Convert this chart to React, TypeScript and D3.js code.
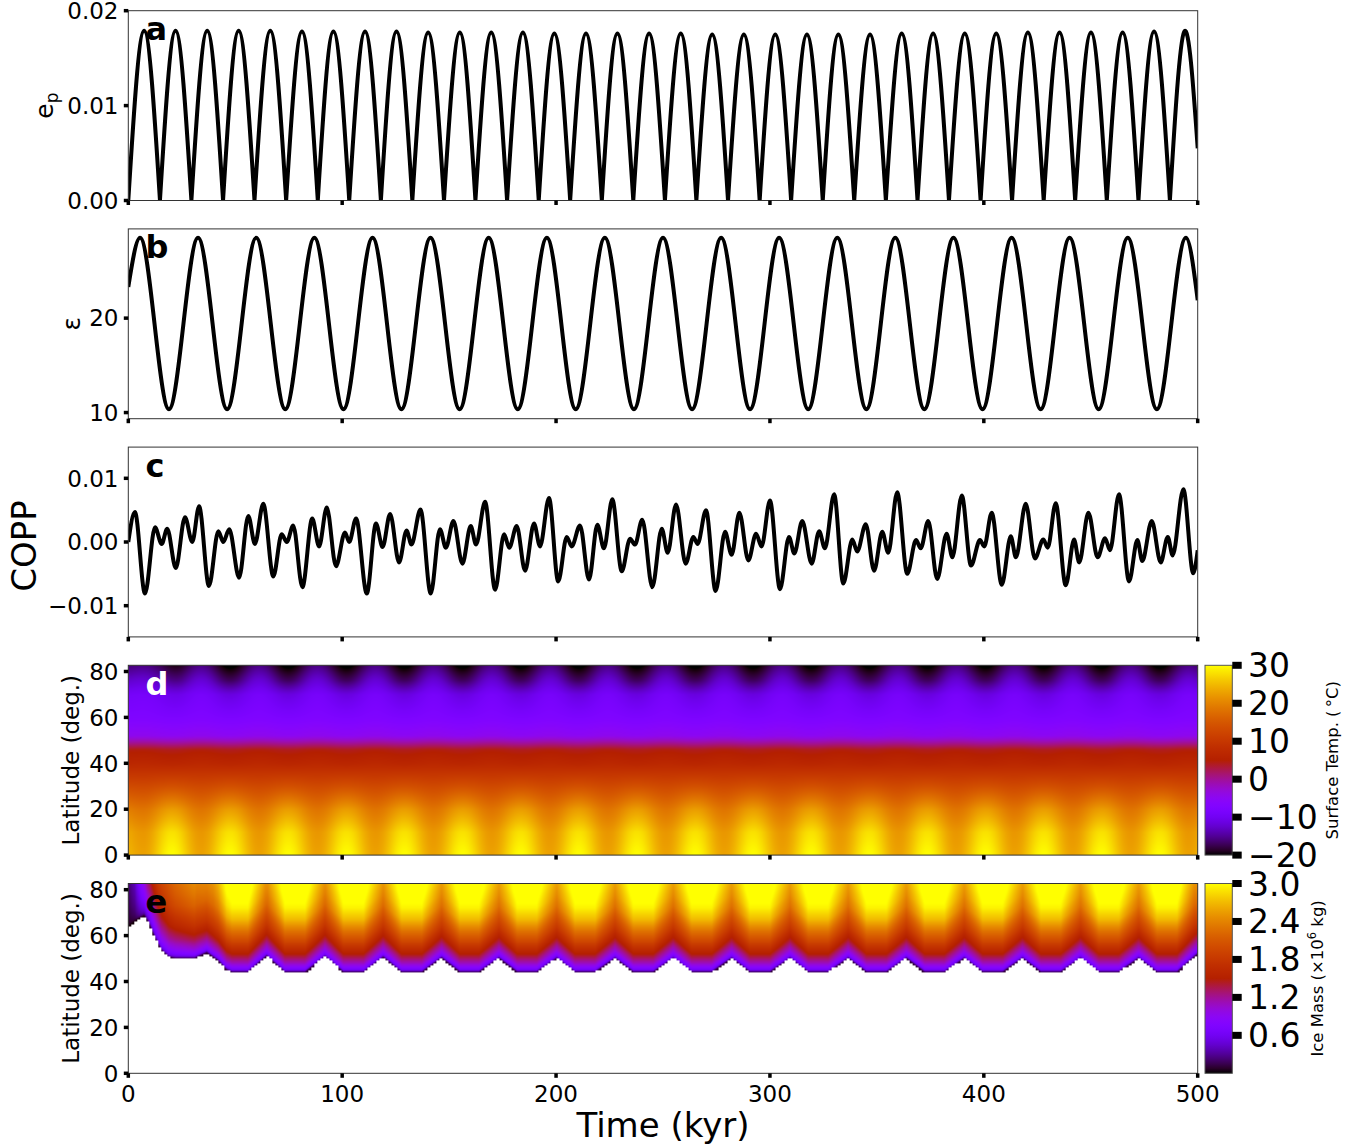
import * as d3 from "d3";
import { useEffect, useRef } from "react";

// ---- values ----
// (a) eccentricity: zeros and arch tops, time in kyr
const eccT = [0, 7.4, 14.8, 22.1, 29.5, 36.9, 44.3, 51.6, 59.0, 66.4, 73.8, 81.2, 88.6, 95.9, 103.3, 110.7, 118.1, 125.4, 132.8, 140.2, 147.6, 155.0, 162.3, 169.7, 177.1, 184.5, 191.9, 199.2, 206.6, 214.0, 221.4, 228.7, 236.1, 243.5, 250.9, 258.3, 265.6, 273.0, 280.4, 287.8, 295.2, 302.5, 309.9, 317.3, 324.7, 332.0, 339.4, 346.8, 354.2, 361.6, 369.0, 376.3, 383.7, 391.1, 398.5, 405.8, 413.2, 420.6, 428.0, 435.4, 442.7, 450.1, 457.5, 464.9, 472.3, 479.6, 487.0, 493.7, 500];
const eccV = [0, 0.0179, 0, 0.0179, 0, 0.0179, 0, 0.0179, 0, 0.0179, 0, 0.0178, 0, 0.0178, 0, 0.0178, 0, 0.0178, 0, 0.0177, 0, 0.0177, 0, 0.0177, 0, 0.0177, 0, 0.0176, 0, 0.0176, 0, 0.0176, 0, 0.0176, 0, 0.0176, 0, 0.0175, 0, 0.0175, 0, 0.0175, 0, 0.0175, 0, 0.0175, 0, 0.0175, 0, 0.0176, 0, 0.0176, 0, 0.0176, 0, 0.0176, 0, 0.0177, 0, 0.0177, 0, 0.0177, 0, 0.0177, 0, 0.0178, 0, 0.0178, 0.0055];

// (b) obliquity extremes
const oblT = [0, 5.5, 19.0, 32.6, 46.2, 59.8, 73.4, 87.0, 100.6, 114.2, 127.7, 141.3, 154.9, 168.5, 182.1, 195.7, 209.2, 222.8, 236.4, 250.0, 263.6, 277.2, 290.7, 304.3, 317.9, 331.5, 345.1, 358.6, 372.2, 385.8, 399.4, 413.0, 426.6, 440.1, 453.7, 467.3, 480.9, 494.5, 500];
const oblV = [23.3, 28.5, 10.35, 28.5, 10.35, 28.5, 10.35, 28.5, 10.35, 28.5, 10.35, 28.5, 10.35, 28.5, 10.35, 28.5, 10.35, 28.5, 10.35, 28.5, 10.35, 28.5, 10.35, 28.5, 10.35, 28.5, 10.35, 28.5, 10.35, 28.5, 10.35, 28.5, 10.35, 28.5, 10.35, 28.5, 10.35, 28.5, 21.9];

// (c) COPP turning points
const coppT = [0, 3.1, 7.8, 12.5, 15.6, 18.2, 22.2, 26.5, 29.9, 33.1, 37.7, 42.1, 44.4, 47.2, 51.8, 56.1, 59.2, 63.1, 67.8, 71.7, 74.1, 77.1, 81.4, 86.0, 89.2, 92.8, 97.1, 101.3, 103.3, 106.5, 111.5, 115.8, 118.9, 122.4, 126.6, 130.1, 132.4, 136.6, 141.4, 145.7, 148.5, 152.0, 156.2, 160.1, 162.6, 166.8, 171.5, 175.7, 178.1, 181.6, 185.5, 189.7, 192.5, 196.7, 201.0, 205.0, 207.3, 211.2, 215.4, 219.3, 222.4, 226.3, 230.7, 234.6, 236.9, 240.3, 245.0, 249.4, 252.2, 256.1, 260.6, 264.2, 266.2, 270.1, 274.6, 279.0, 282.1, 285.7, 289.9, 293.5, 296.1, 300.0, 304.7, 308.9, 311.4, 315.1, 319.5, 323.0, 325.7, 330.0, 334.3, 338.5, 340.8, 344.8, 348.7, 352.5, 355.3, 359.5, 364.2, 368.3, 370.5, 374.0, 378.2, 382.6, 385.3, 389.7, 394.0, 398.2, 400.2, 403.7, 408.4, 412.6, 415.0, 419.6, 423.9, 427.8, 429.9, 433.6, 438.3, 442.2, 444.6, 448.9, 453.2, 456.7, 459.0, 463.2, 467.9, 471.8, 474.1, 478.5, 482.7, 486.0, 488.3, 493.3, 497.9, 500];
const coppV = [0, 0.0047, -0.0081, 0.0023, -0.0003, 0.0021, -0.0041, 0.0039, 0.0, 0.0056, -0.0069, 0.0017, 0.0, 0.002, -0.0056, 0.0041, -0.0003, 0.006, -0.0054, 0.0012, 0.0, 0.0026, -0.0071, 0.0037, -0.0007, 0.0054, -0.0038, 0.0015, 0.0, 0.0037, -0.0081, 0.0029, -0.0008, 0.0044, -0.0032, 0.0018, -0.0004, 0.0051, -0.0081, 0.002, -0.0009, 0.0033, -0.0034, 0.0025, -0.0004, 0.0063, -0.0075, 0.0012, -0.0009, 0.0025, -0.0045, 0.0029, -0.0007, 0.0069, -0.0062, 0.0008, -0.0007, 0.0026, -0.0059, 0.0027, -0.001, 0.0067, -0.0046, 0.0005, -0.0004, 0.0035, -0.0071, 0.0021, -0.0017, 0.0059, -0.0034, 0.0008, -0.0003, 0.005, -0.0077, 0.0016, -0.002, 0.0046, -0.0029, 0.0013, -0.0007, 0.0065, -0.0074, 0.0008, -0.0018, 0.0033, -0.0034, 0.0017, -0.001, 0.0075, -0.0065, 0.0004, -0.0015, 0.0028, -0.0045, 0.0016, -0.0017, 0.0078, -0.005, 0.0003, -0.001, 0.0033, -0.0058, 0.0013, -0.0024, 0.0073, -0.0037, 0.0003, -0.0007, 0.0046, -0.0067, 0.0009, -0.0024, 0.006, -0.0026, 0.0004, -0.0009, 0.0061, -0.0068, 0.0004, -0.0032, 0.0046, -0.0024, 0.0006, -0.0013, 0.0075, -0.0062, 0.0003, -0.003, 0.0033, -0.0032, 0.0008, -0.0021, 0.0083, -0.0049, -0.0013];

// (d) surface temperature profiles (deg C) at high / low obliquity
const tempLat = [0, 10, 20, 30, 40, 46, 49, 52, 60, 70, 76, 83];
const tempHighObl = [23, 22, 18.5, 13, 7, 4.5, 0, -4.5, -7.5, -9, -12, -16];
const tempLowObl = [30, 28, 22.5, 14, 6.5, 4, -0.5, -5, -8, -11.5, -17, -21];
// polar cooling during the first cycles (share of the full swing)
const poleSpinupT = [0, 15, 25, 40];
const poleSpinup = [0.45, 0.5, 0.85, 1];

// (e) ice edge latitude through time
const iceEdgeT = [0, 3.5, 7.5, 9.5, 12.5, 15.5, 19, 22, 31, 36.7, 42, 46, 48.5, 56, 64.7, 73.2, 82.7, 92.0, 100.5, 110, 119.2, 127.7, 137.3, 146.5, 155, 164, 173.3, 181.8, 191, 200.3, 208.8, 218.3, 227.6, 236.1, 245.5, 254.8, 263.3, 272.8, 282.1, 290.6, 300, 309.4, 317.9, 327.3, 336.6, 345.1, 354.5, 363.8, 372.3, 381.6, 390.9, 399.4, 408.8, 418.1, 426.6, 435.9, 445.2, 453.7, 463.1, 472.4, 480.9, 490.3, 500];
const iceEdgeLat = [64, 66.5, 68.7, 65.5, 59, 53.5, 50.5, 50, 50, 52.5, 49, 45, 44, 44, 51, 44, 44, 50.8, 44, 44, 50.5, 44, 44, 50.2, 44, 44, 50, 44, 44, 50, 44, 44, 50, 44, 44, 50, 44, 44, 50, 44, 44, 50, 44, 44, 50, 44, 44, 50, 44, 44, 50, 44, 44, 50, 44, 44, 50, 44, 44, 50, 44, 44, 52];
// ice mass (x10^6 kg) vs degrees poleward of the edge, when the edge is low / high
const iceDist = [0, 1, 2, 4, 8, 14, 18, 23, 28, 34, 40];
const iceMassLowEdge = [0.1, 0.6, 0.8, 1.1, 1.5, 2.0, 2.3, 2.7, 2.95, 3.1, 3.2];
const iceMassHighEdge = [0.1, 0.6, 0.8, 1.05, 1.4, 1.8, 2.0, 2.25, 2.4, 2.55, 2.65];
const iceGrowthT = [0, 3, 6, 9, 14, 20, 30, 40];
const iceGrowth = [0.1, 0.2, 0.45, 0.65, 0.78, 0.85, 0.95, 1];

const timeTicks = [0, 100, 200, 300, 400, 500];
const tempTicks = [-20, -10, 0, 10, 20, 30];
const iceTicks = [0.6, 1.2, 1.8, 2.4, 3.0];

const FONT = "DejaVu Sans, sans-serif";
const X0 = 128.3, X1 = 1197.7, PH = 189.8;
const TOPS = [10.7, 228.9, 447.1, 665.3, 883.5];

// matplotlib "gnuplot" colormap
const gnuplot = (v: number): [number, number, number] => {
  const x = Math.max(0, Math.min(1, v));
  return [Math.sqrt(x) * 255, x * x * x * 255, Math.max(0, Math.sin(2 * Math.PI * x)) * 255];
};
const rgb = (c: number[]) => `rgb(${Math.round(c[0])},${Math.round(c[1])},${Math.round(c[2])})`;
const clamp01 = (v: number) => Math.max(0, Math.min(1, v));

function raster(w: number, h: number, fn: (i: number, j: number) => number[] | null) {
  const c = document.createElement("canvas");
  c.width = w; c.height = h;
  const ctx = c.getContext("2d")!;
  const img = ctx.createImageData(w, h);
  for (let j = 0; j < h; j++) {
    for (let i = 0; i < w; i++) {
      const col = fn(i, j);
      const k = (j * w + i) * 4;
      if (col) {
        img.data[k] = col[0]; img.data[k + 1] = col[1]; img.data[k + 2] = col[2]; img.data[k + 3] = 255;
      } else img.data[k + 3] = 0;
    }
  }
  ctx.putImageData(img, 0, 0);
  return c.toDataURL();
}

export default function App() {
  const ref = useRef<SVGSVGElement>(null);

  useEffect(() => {
    const svg = d3.select(ref.current);
    svg.selectAll("*").remove();
    svg.append("rect").attr("width", 1367).attr("height", 1148).attr("fill", "white");

    const x = d3.scaleLinear().domain([0, 500]).range([X0, X1]);
    const defs = svg.append("defs");
    TOPS.forEach((top, i) => {
      defs.append("clipPath").attr("id", `clip${i}`).append("rect")
        .attr("x", X0).attr("y", top).attr("width", X1 - X0).attr("height", PH);
    });

    const yA = d3.scaleLinear().domain([0, 0.02]).range([TOPS[0] + PH, TOPS[0]]);
    const yB = d3.scaleLinear().domain([9.35, 29.45]).range([TOPS[1] + PH, TOPS[1]]);
    const yC = d3.scaleLinear().domain([-0.0149, 0.0149]).range([TOPS[2] + PH, TOPS[2]]);
    const yD = d3.scaleLinear().domain([0, 82.7]).range([TOPS[3] + PH, TOPS[3]]);
    const yE = d3.scaleLinear().domain([0, 82.7]).range([TOPS[4] + PH, TOPS[4]]);

    const wR = Math.round(X1 - X0), hR = Math.round(PH);

    // obliquity phase: 0 at maxima, 1 at minima
    const oblAt = d3.scaleLinear().domain(oblT).range(oblV).clamp(true);
    const oblHi = d3.max(oblV)!, oblLo = d3.min(oblV)!;
    const lowOblWeight = (t: number) => d3.easeSinInOut(clamp01((oblHi - oblAt(t)) / (oblHi - oblLo)));

    // (d) temperature map
    const profHi = d3.scaleLinear().domain(tempLat).range(tempHighObl).clamp(true);
    const profLo = d3.scaleLinear().domain(tempLat).range(tempLowObl).clamp(true);
    const spin = d3.scaleLinear().domain(poleSpinupT).range(poleSpinup).clamp(true);
    const tempNorm = d3.scaleLinear().domain([-20, 30]).range([0, 1]).clamp(true);
    const urlD = raster(wR, hR, (i, j) => {
      const t = x.invert(X0 + ((i + 0.5) * (X1 - X0)) / wR);
      const lat = yD.invert(TOPS[3] + ((j + 0.5) * PH) / hR);
      const polar = clamp01((lat - 50) / 20);
      const p = lowOblWeight(t - 1.4) * (1 - (1 - spin(t)) * polar);
      return gnuplot(tempNorm(profHi(lat) * (1 - p) + profLo(lat) * p));
    });

    // (e) ice map
    const edgeAt = d3.scaleLinear().domain(iceEdgeT).range(iceEdgeLat).clamp(true);
    const mLow = d3.scaleLinear().domain(iceDist).range(iceMassLowEdge).clamp(true);
    const mHigh = d3.scaleLinear().domain(iceDist).range(iceMassHighEdge).clamp(true);
    const growth = d3.scaleLinear().domain(iceGrowthT).range(iceGrowth).clamp(true);
    const urlE = raster(wR, hR, (i, j) => {
      const t = x.invert(X0 + ((i + 0.5) * (X1 - X0)) / wR);
      const tq = (Math.floor(t / 1.4) + 0.5) * 1.4;
      const lat = yE.invert(TOPS[4] + ((j + 0.5) * PH) / hR);
      const latq = Math.floor(lat) + 0.5;
      if (latq < edgeAt(tq)) return null;
      const edge = edgeAt(t);
      const w = clamp01((50.5 - edge) / 6.5);
      const d = Math.max(0, lat - edge);
      const m = (mHigh(d) * (1 - w) + mLow(d) * w) * growth(t);
      return gnuplot(m / 3.0);
    });

    svg.append("image").attr("href", urlD).attr("x", X0).attr("y", TOPS[3])
      .attr("width", X1 - X0).attr("height", PH).attr("preserveAspectRatio", "none");
    svg.append("image").attr("href", urlE).attr("x", X0).attr("y", TOPS[4])
      .attr("width", X1 - X0).attr("height", PH).attr("preserveAspectRatio", "none");

    // (a) eccentricity arches
    const lineA = d3.line<number[]>().x(d => x(d[0])).y(d => yA(d[1])).curve(d3.curveNatural);
    const ptsA = eccT.map((t, i) => [t, eccV[i]]);
    let pathA = "";
    for (let k = 0; k + 2 < ptsA.length; k += 2) {
      const s = lineA(ptsA.slice(k, k + 3))!;
      pathA += k === 0 ? s : s.replace(/^M[^C]*/, "");
    }
    const lineB = d3.line<number[]>().x(d => x(d[0])).y(d => yB(d[1])).curve(d3.curveMonotoneX);
    const lineC = d3.line<number[]>().x(d => x(d[0])).y(d => yC(d[1])).curve(d3.curveMonotoneX);
    const curves = [
      [0, pathA],
      [1, lineB(oblT.map((t, i) => [t, oblV[i]]))!],
      [2, lineC(coppT.map((t, i) => [t, coppV[i]]))!],
    ] as [number, string][];
    curves.forEach(([i, d]) => {
      svg.append("path").attr("d", d).attr("clip-path", `url(#clip${i})`)
        .attr("fill", "none").attr("stroke", "#000").attr("stroke-width", 4)
        .attr("stroke-linejoin", "round");
    });

    // frames, ticks, tick labels
    const yScales = [yA, yB, yC, yD, yE];
    const yTicks = [[0, 0.01, 0.02], [10, 20], [-0.01, 0, 0.01], [0, 20, 40, 60, 80], [0, 20, 40, 60, 80]];
    const yFmt = [
      (v: number) => v.toFixed(2),
      (v: number) => String(v),
      (v: number) => v.toFixed(2).replace("-", "\u2212"),
      (v: number) => String(v),
      (v: number) => String(v),
    ];
    TOPS.forEach((top, i) => {
      const g = svg.append("g");
      g.append("rect").attr("x", X0).attr("y", top).attr("width", X1 - X0).attr("height", PH)
        .attr("fill", "none").attr("stroke", "#333").attr("stroke-width", 1);
      timeTicks.forEach(t => {
        g.append("line").attr("x1", x(t)).attr("x2", x(t)).attr("y1", top + PH).attr("y2", top + PH + 4.5)
          .attr("stroke", "#000").attr("stroke-width", 3.5);
      });
      yTicks[i].forEach(v => {
        const yy = yScales[i](v);
        g.append("line").attr("x1", X0 - 4.5).attr("x2", X0).attr("y1", yy).attr("y2", yy)
          .attr("stroke", "#000").attr("stroke-width", 3.5);
        g.append("text").attr("x", 118.5).attr("y", yy + 8.3).attr("text-anchor", "end")
          .attr("font-family", FONT).attr("font-size", 23).text(yFmt[i](v));
      });
    });
    timeTicks.forEach(t => {
      svg.append("text").attr("x", x(t)).attr("y", 1101.5).attr("text-anchor", "middle")
        .attr("font-family", FONT).attr("font-size", 23).text(String(t));
    });
    svg.append("text").attr("x", (X0 + X1) / 2).attr("y", 1137).attr("text-anchor", "middle")
      .attr("font-family", FONT).attr("font-size", 34).text("Time (kyr)");

    // panel letters
    ["a", "b", "c", "d", "e"].forEach((s, i) => {
      svg.append("text").attr("x", 145.5).attr("y", TOPS[i] + 29.5).attr("font-family", FONT)
        .attr("font-weight", "bold").attr("font-size", 32).attr("fill", i === 3 ? "#fff" : "#000").text(s);
    });

    // y labels
    const vtext = (bx: number, cy: number, size: number) =>
      svg.append("text").attr("transform", `translate(${bx},${cy}) rotate(-90)`)
        .attr("text-anchor", "middle").attr("font-family", FONT).attr("font-size", size);
    const ep = vtext(53, TOPS[0] + PH / 2, 25);
    ep.append("tspan").text("e");
    ep.append("tspan").attr("font-size", 17).attr("dy", 5).text("p");
    vtext(80, TOPS[1] + PH / 2, 25).text("\u03b5");
    vtext(35.5, 546, 34).text("COPP");
    vtext(78.5, TOPS[3] + PH / 2, 23).text("Latitude (deg.)");
    vtext(78.5, TOPS[4] + PH / 2, 23).text("Latitude (deg.)");

    // colour bars
    const CB0 = 1205, CBW = 27.3;
    const grad = defs.append("linearGradient").attr("id", "gnu").attr("x1", 0).attr("y1", 1).attr("x2", 0).attr("y2", 0);
    d3.range(41).forEach(k => grad.append("stop").attr("offset", k / 40).attr("stop-color", rgb(gnuplot(k / 40))));
    const bars = [
      { top: TOPS[3], scale: d3.scaleLinear().domain([-20, 30]).range([TOPS[3] + PH, TOPS[3]]), ticks: tempTicks,
        fmt: (v: number) => String(v).replace("-", "\u2212") },
      { top: TOPS[4], scale: d3.scaleLinear().domain([0, 3.0]).range([TOPS[4] + PH, TOPS[4]]), ticks: iceTicks,
        fmt: d3.format(".1f") },
    ];
    bars.forEach(b => {
      svg.append("rect").attr("x", CB0).attr("y", b.top).attr("width", CBW).attr("height", PH)
        .attr("fill", "url(#gnu)").attr("stroke", "#555").attr("stroke-width", 1);
      b.ticks.forEach(v => {
        const yy = b.scale(v);
        svg.append("rect").attr("x", CB0 + CBW).attr("y", yy - 3.5).attr("width", 9.4).attr("height", 7).attr("fill", "#000");
        svg.append("text").attr("x", 1248).attr("y", yy + 12).attr("font-family", FONT).attr("font-size", 33).text(b.fmt(v));
      });
    });
    vtext(1337.5, TOPS[3] + PH / 2, 16.5).text("Surface Temp. (\u2009\u00b0C)");
    const im = vtext(1322.5, TOPS[4] + PH / 2, 16.5);
    im.append("tspan").text("Ice Mass (\u00d710");
    im.append("tspan").attr("font-size", 11.5).attr("dy", -7).text("6");
    im.append("tspan").attr("dy", 7).text(" kg)");
  }, []);

  return (
    <svg ref={ref} width={1367} height={1148}
      style={{ position: "absolute", left: 0, top: 0, display: "block" }} />
  );
}
